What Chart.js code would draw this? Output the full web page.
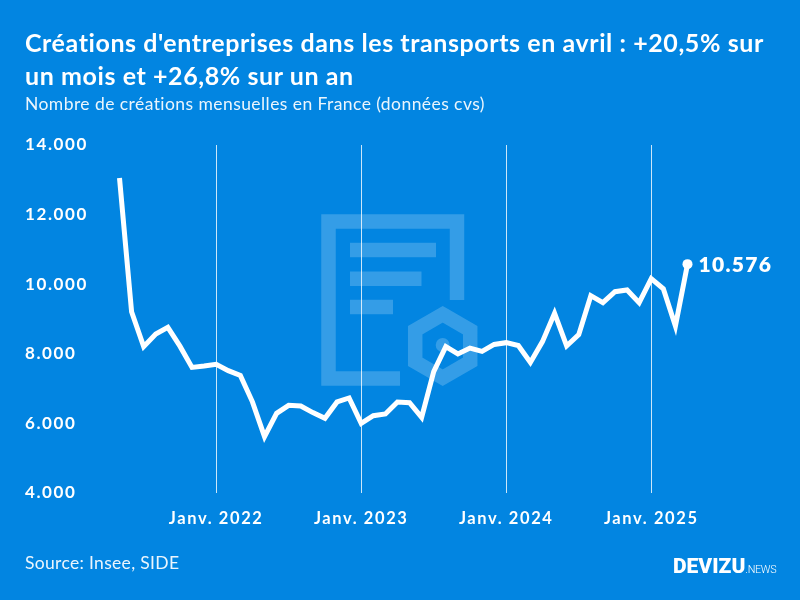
<!DOCTYPE html>
<html lang="fr">
<head>
<meta charset="utf-8">
<title>Créations d'entreprises dans les transports</title>
<script src="https://cdn.jsdelivr.net/npm/chart.js@4/dist/chart.umd.min.js"></script>
<style>
  html, body { margin: 0; padding: 0; background: #0285e1; }
  #page { position: relative; width: 800px; height: 600px; overflow: hidden; background: #0285e1; color: #fff; font-family: Lato, sans-serif; }
  #page div { position: absolute; white-space: nowrap; }
  #watermark { position: absolute; left: 0; top: 0; }
  #salesChart { position: absolute; left: 0; top: 0; }
  .title { left: 25px; font-size: 25px; font-weight: 700; line-height: 36px; letter-spacing: .58px; }
  #sub { left: 25px; top: 93px; font-size: 17.5px; line-height: 22px; opacity: .92; font-weight: 400; letter-spacing: .43px; }
  #source { left: 25px; top: 552px; font-size: 17.5px; line-height: 22px; opacity: .92; letter-spacing: .32px; }
  #logo { left: 673px; top: 553px; font-family: Roboto, sans-serif; font-size: 21px; line-height: 26px; font-weight: 900; }
  #logo span { font-weight: 300; font-size: 10.8px; letter-spacing: -.3px; }
</style>
</head>
<body>
<div id="page">
  <svg id="watermark" width="800" height="600" fill="none" stroke="#fff" stroke-opacity=".2">
    <path d="M400 378.5H328.5V221.5H457V300" stroke-width="14.5"/>
    <path d="M350 250H436M350 278.7H421.5M350 307H393" stroke-width="14.5"/>
    <path d="M442.7 314.3L470.2 330.2V361.8L442.7 377.7L415.2 361.8V330.2Z" stroke-width="14.5"/>
    <circle cx="442.7" cy="345" r="7" fill="#fff" fill-opacity=".2" stroke="none"/>
  </svg>
  <canvas id="salesChart" width="800" height="600"></canvas>
  <div class="title" style="top:23.5px">Créations d'entreprises dans les transports en avril : +20,5% sur</div>
  <div class="title" style="top:56.5px">un mois et +26,8% sur un an</div>
  <div id="sub">Nombre de créations mensuelles en France (données cvs)</div>
  <div id="source">Source: Insee, SIDE</div>
  <div id="logo">DEVIZU<span>.NEWS</span></div>
</div>
<script>
const months = [
    'mai 21', 'juin 21', 'juil 21', 'août 21', 'sept 21', 'oct 21', 'nov 21', 'déc 21',
    'Janv. 2022', 'fév 22', 'mars 22', 'avr 22', 'mai 22', 'juin 22', 'juil 22', 'août 22', 'sept 22', 'oct 22', 'nov 22', 'déc 22',
    'Janv. 2023', 'fév 23', 'mars 23', 'avr 23', 'mai 23', 'juin 23', 'juil 23', 'août 23', 'sept 23', 'oct 23', 'nov 23', 'déc 23',
    'Janv. 2024', 'fév 24', 'mars 24', 'avr 24', 'mai 24', 'juin 24', 'juil 24', 'août 24', 'sept 24', 'oct 24', 'nov 24', 'déc 24',
    'Janv. 2025', 'fév 25', 'mars 25', 'avr 25'
];

const creations = [
    13050, 9210, 8205, 8570, 8760, 8220, 7610, 7650,
    7700, 7515, 7380, 6620, 5620, 6290, 6520, 6500, 6310, 6145, 6615, 6730,
    6000, 6220, 6270, 6615, 6595, 6175, 7490, 8205, 7995, 8165, 8070, 8270,
    8320, 8240, 7750, 8350, 9165, 8225, 8550, 9670, 9470, 9785, 9835, 9470,
    10160, 9870, 8800, 10576
];

function formatNumber(n) {
    return String(n).replace(/\B(?=(\d{3})+$)/g, '.');
}

function isJanuary(i) {
    return months[i].startsWith('Janv');
}

// espacement des lettres pour les graduations + valeur à droite du dernier point
const labelStyle = {
    id: 'labelStyle',
    beforeDraw(chart) {
        chart.ctx.letterSpacing = '1.6px';
    },
    afterDatasetsDraw(chart) {
        const pts = chart.getDatasetMeta(0).data;
        const p = pts[pts.length - 1];
        const ctx = chart.ctx;
        ctx.save();
        ctx.fillStyle = '#fff';
        ctx.font = '800 21px Lato';
        ctx.letterSpacing = '1.3px';
        ctx.textBaseline = 'middle';
        ctx.fillText(formatNumber(creations[creations.length - 1]), p.x + 11, p.y + 1);
        ctx.restore();
    }
};

new Chart(document.getElementById('salesChart').getContext('2d'), {
    type: 'line',
    data: {
        labels: months,
        datasets: [{
            data: creations,
            borderColor: '#fff',
            backgroundColor: '#fff',
            borderWidth: 5,
            tension: 0,
            borderJoinStyle: 'miter',
            pointRadius: ctx => ctx.dataIndex === creations.length - 1 ? 5 : 0,
            pointBorderWidth: 0,
            pointHoverRadius: 0,
            clip: false
        }]
    },
    options: {
        responsive: false,
        animation: false,
        layout: { padding: { left: 25, right: 112.5, top: 145, bottom: 67 } },
        plugins: { legend: { display: false }, tooltip: { enabled: false } },
        scales: {
            x: {
                offset: false,
                afterFit: scale => { scale.height = 40; },
                border: { display: false },
                grid: {
                    drawTicks: false,
                    color: ctx => isJanuary(ctx.index) ? 'rgba(255,255,255,.8)' : 'rgba(0,0,0,0)',
                    lineWidth: 1
                },
                ticks: {
                    autoSkip: false,
                    maxRotation: 0,
                    padding: 16,
                    color: '#fff',
                    font: { family: 'Lato', size: 16.5, weight: '700' },
                    callback: function (v, i) { return isJanuary(i) ? months[i] : ''; }
                }
            },
            y: {
                min: 4000,
                max: 14000,
                afterFit: scale => { scale.width = 94.5; },
                border: { display: false },
                grid: { display: false },
                ticks: {
                    stepSize: 2000,
                    crossAlign: 'far',
                    padding: 0,
                    color: '#fff',
                    font: { family: 'Lato', size: 17, weight: '700' },
                    callback: v => formatNumber(v)
                }
            }
        }
    },
    plugins: [labelStyle]
});
</script>
</body>
</html>
